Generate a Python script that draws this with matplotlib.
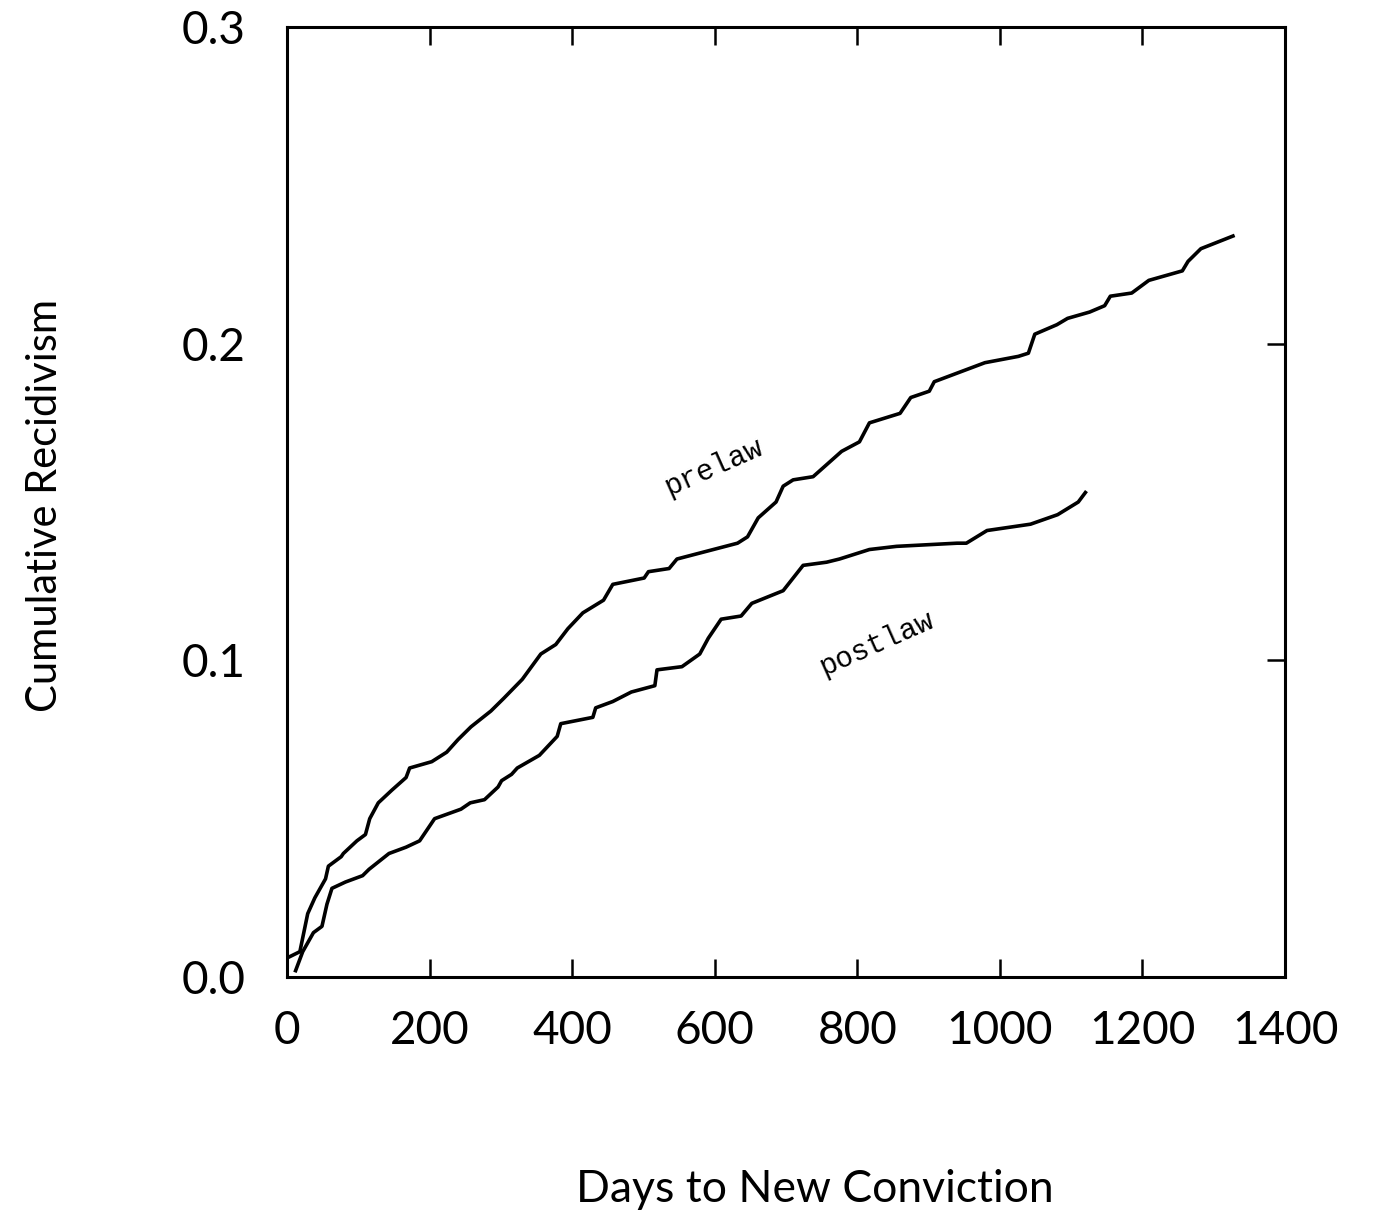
import matplotlib
matplotlib.use('Agg')
import matplotlib.pyplot as plt

# Cumulative recidivism curves
prelaw_days = [0, 18, 29, 39, 54, 58, 76, 79, 98, 110, 116, 128, 147, 167, 172,
               203, 224, 240, 258, 286, 304, 330, 356, 377, 394, 415, 444, 457,
               501, 507, 536, 547, 632, 646, 661, 686, 696, 710, 738, 778, 803,
               817, 860, 875, 901, 908, 979, 1026, 1040, 1049, 1080, 1095, 1126,
               1147, 1155, 1185, 1209, 1256, 1264, 1282, 1327]
prelaw_rate = [0.006, 0.008, 0.020, 0.025, 0.031, 0.035, 0.038, 0.039, 0.043,
               0.045, 0.050, 0.055, 0.059, 0.063, 0.066, 0.068, 0.071, 0.075,
               0.079, 0.084, 0.088, 0.094, 0.102, 0.105, 0.110, 0.115, 0.119,
               0.124, 0.126, 0.128, 0.129, 0.132, 0.137, 0.139, 0.145, 0.150,
               0.155, 0.157, 0.158, 0.166, 0.169, 0.175, 0.178, 0.183, 0.185,
               0.188, 0.194, 0.196, 0.197, 0.203, 0.206, 0.208, 0.210, 0.212,
               0.215, 0.216, 0.220, 0.223, 0.226, 0.230, 0.234]

postlaw_days = [12, 22, 37, 49, 56, 63, 82, 106, 115, 143, 167, 186, 207, 244,
                257, 277, 296, 301, 315, 323, 354, 379, 384, 429, 433, 457, 483,
                516, 519, 554, 579, 591, 609, 637, 652, 696, 724, 757, 775, 817,
                855, 940, 953, 982, 1043, 1081, 1110, 1120]
postlaw_rate = [0.002, 0.008, 0.014, 0.016, 0.023, 0.028, 0.030, 0.032, 0.034,
                0.039, 0.041, 0.043, 0.050, 0.053, 0.055, 0.056, 0.060, 0.062,
                0.064, 0.066, 0.070, 0.076, 0.080, 0.082, 0.085, 0.087, 0.090,
                0.092, 0.097, 0.098, 0.102, 0.107, 0.113, 0.114, 0.118, 0.122,
                0.130, 0.131, 0.132, 0.135, 0.136, 0.137, 0.137, 0.141, 0.143,
                0.146, 0.150, 0.153]

x_ticks = [0, 200, 400, 600, 800, 1000, 1200, 1400]
y_ticks = [0.0, 0.1, 0.2, 0.3]

label_font = ['Lato', 'DejaVu Sans']
mono_font = ['Liberation Mono', 'DejaVu Sans Mono']

fig = plt.figure(figsize=(13.78, 12.24), dpi=100)
ax = fig.add_axes([0.2083, 0.2018, 0.7242, 0.7761])

ax.plot(prelaw_days, prelaw_rate, color='black', linewidth=2.6)
ax.plot(postlaw_days, postlaw_rate, color='black', linewidth=2.6)

ax.set_xlim(0, 1400)
ax.set_ylim(0, 0.3)
ax.set_xticks(x_ticks)
ax.set_xticklabels([str(t) for t in x_ticks])
ax.set_yticks(y_ticks)
ax.set_yticklabels([f'{t:.1f}' for t in y_ticks])

for s in ax.spines.values():
    s.set_linewidth(2.2)

ax.tick_params(axis='x', direction='in', top=True, bottom=True,
               length=13, width=1.8, pad=24, labelsize=33)
ax.tick_params(axis='y', direction='in', left=False, right=True,
               labelleft=True, length=13, width=1.8, pad=30, labelsize=33)
for lab in ax.get_xticklabels() + ax.get_yticklabels():
    lab.set_family(label_font)

# curve labels in typewriter style
ax.text(598, 0.161, 'prelaw', family=mono_font,
        fontsize=21, rotation=24, ha='center', va='center')
ax.text(827, 0.1055, 'postlaw', family=mono_font,
        fontsize=21, rotation=24, ha='center', va='center')

fig.text(815 / 1378, 1 - 1190 / 1224, 'Days to New Conviction',
         family=label_font, fontsize=32, ha='center', va='center')
fig.text(45 / 1378, 1 - 505 / 1224, 'Cumulative Recidivism',
         family=label_font, fontsize=30, rotation=90,
         ha='center', va='center')

plt.savefig('out.png', dpi=100, facecolor='white')
